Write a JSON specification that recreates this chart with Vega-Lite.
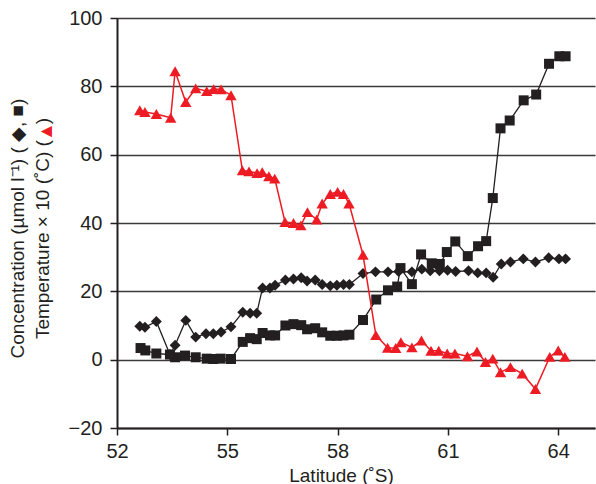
{
  "$schema": "https://vega.github.io/schema/vega-lite/v6.json",
  "width": 478,
  "height": 410,
  "autosize": {"type": "none"},
  "padding": {"left": 117, "top": 18, "right": 1, "bottom": 56},
  "config": {
    "view": {"stroke": null},
    "font": "Liberation Sans",
    "axis": {
      "labelFont": "Liberation Sans",
      "titleFont": "Liberation Sans",
      "labelFontSize": 20,
      "titleFontSize": 19,
      "titleFontWeight": "normal",
      "labelColor": "#231f20",
      "titleColor": "#231f20",
      "tickColor": "#231f20",
      "domainColor": "#231f20",
      "tickSize": 7,
      "tickWidth": 1.5,
      "labelFlush": false
    }
  },
  "datasets": {
    "conc": [
      {"latitude": 52.64, "value": 3.4, "series": "square"},
      {"latitude": 52.77, "value": 2.7, "series": "square"},
      {"latitude": 53.07, "value": 1.8, "series": "square"},
      {"latitude": 53.44, "value": 1.5, "series": "square"},
      {"latitude": 53.58, "value": 0.7, "series": "square"},
      {"latitude": 53.85, "value": 1.2, "series": "square"},
      {"latitude": 54.14, "value": 0.7, "series": "square"},
      {"latitude": 54.44, "value": 0.3, "series": "square"},
      {"latitude": 54.62, "value": 0.2, "series": "square"},
      {"latitude": 54.82, "value": 0.3, "series": "square"},
      {"latitude": 55.10, "value": 0.2, "series": "square"},
      {"latitude": 55.42, "value": 5.2, "series": "square"},
      {"latitude": 55.62, "value": 6.3, "series": "square"},
      {"latitude": 55.80, "value": 6.0, "series": "square"},
      {"latitude": 55.96, "value": 7.8, "series": "square"},
      {"latitude": 56.16, "value": 7.1, "series": "square"},
      {"latitude": 56.30, "value": 7.1, "series": "square"},
      {"latitude": 56.58, "value": 10.0, "series": "square"},
      {"latitude": 56.80, "value": 10.4, "series": "square"},
      {"latitude": 57.01, "value": 10.1, "series": "square"},
      {"latitude": 57.17, "value": 8.9, "series": "square"},
      {"latitude": 57.39, "value": 9.2, "series": "square"},
      {"latitude": 57.58, "value": 8.0, "series": "square"},
      {"latitude": 57.80, "value": 7.0, "series": "square"},
      {"latitude": 57.98, "value": 7.0, "series": "square"},
      {"latitude": 58.16, "value": 7.1, "series": "square"},
      {"latitude": 58.32, "value": 7.3, "series": "square"},
      {"latitude": 58.69, "value": 11.6, "series": "square"},
      {"latitude": 59.05, "value": 17.6, "series": "square"},
      {"latitude": 59.37, "value": 20.3, "series": "square"},
      {"latitude": 59.62, "value": 21.4, "series": "square"},
      {"latitude": 59.71, "value": 26.8, "series": "square"},
      {"latitude": 60.02, "value": 22.1, "series": "square"},
      {"latitude": 60.27, "value": 30.8, "series": "square"},
      {"latitude": 60.56, "value": 28.2, "series": "square"},
      {"latitude": 60.78, "value": 28.0, "series": "square"},
      {"latitude": 60.97, "value": 31.5, "series": "square"},
      {"latitude": 61.20, "value": 34.6, "series": "square"},
      {"latitude": 61.54, "value": 30.3, "series": "square"},
      {"latitude": 61.82, "value": 33.2, "series": "square"},
      {"latitude": 62.04, "value": 34.7, "series": "square"},
      {"latitude": 62.22, "value": 47.3, "series": "square"},
      {"latitude": 62.43, "value": 67.7, "series": "square"},
      {"latitude": 62.68, "value": 70.0, "series": "square"},
      {"latitude": 63.06, "value": 75.9, "series": "square"},
      {"latitude": 63.40, "value": 77.6, "series": "square"},
      {"latitude": 63.75, "value": 86.6, "series": "square"},
      {"latitude": 64.03, "value": 88.8, "series": "square"},
      {"latitude": 64.20, "value": 88.8, "series": "square"},
      {"latitude": 52.62, "value": 9.8, "series": "diamond"},
      {"latitude": 52.76, "value": 9.5, "series": "diamond"},
      {"latitude": 53.07, "value": 11.2, "series": "diamond"},
      {"latitude": 53.44, "value": 1.5, "series": "diamond"},
      {"latitude": 53.58, "value": 4.2, "series": "diamond"},
      {"latitude": 53.87, "value": 11.5, "series": "diamond"},
      {"latitude": 54.14, "value": 6.6, "series": "diamond"},
      {"latitude": 54.42, "value": 7.6, "series": "diamond"},
      {"latitude": 54.62, "value": 7.6, "series": "diamond"},
      {"latitude": 54.83, "value": 8.1, "series": "diamond"},
      {"latitude": 55.10, "value": 9.6, "series": "diamond"},
      {"latitude": 55.42, "value": 13.9, "series": "diamond"},
      {"latitude": 55.62, "value": 13.6, "series": "diamond"},
      {"latitude": 55.80, "value": 13.6, "series": "diamond"},
      {"latitude": 55.96, "value": 21.0, "series": "diamond"},
      {"latitude": 56.16, "value": 21.0, "series": "diamond"},
      {"latitude": 56.30, "value": 21.8, "series": "diamond"},
      {"latitude": 56.58, "value": 23.3, "series": "diamond"},
      {"latitude": 56.80, "value": 23.6, "series": "diamond"},
      {"latitude": 57.01, "value": 24.0, "series": "diamond"},
      {"latitude": 57.17, "value": 23.0, "series": "diamond"},
      {"latitude": 57.39, "value": 23.3, "series": "diamond"},
      {"latitude": 57.58, "value": 22.0, "series": "diamond"},
      {"latitude": 57.80, "value": 21.6, "series": "diamond"},
      {"latitude": 57.98, "value": 21.8, "series": "diamond"},
      {"latitude": 58.16, "value": 22.0, "series": "diamond"},
      {"latitude": 58.32, "value": 22.0, "series": "diamond"},
      {"latitude": 58.69, "value": 25.2, "series": "diamond"},
      {"latitude": 59.03, "value": 25.7, "series": "diamond"},
      {"latitude": 59.37, "value": 25.7, "series": "diamond"},
      {"latitude": 59.66, "value": 25.8, "series": "diamond"},
      {"latitude": 60.02, "value": 25.7, "series": "diamond"},
      {"latitude": 60.29, "value": 26.5, "series": "diamond"},
      {"latitude": 60.52, "value": 26.0, "series": "diamond"},
      {"latitude": 60.77, "value": 26.0, "series": "diamond"},
      {"latitude": 60.99, "value": 26.2, "series": "diamond"},
      {"latitude": 61.21, "value": 25.8, "series": "diamond"},
      {"latitude": 61.56, "value": 26.0, "series": "diamond"},
      {"latitude": 61.81, "value": 25.4, "series": "diamond"},
      {"latitude": 62.04, "value": 25.4, "series": "diamond"},
      {"latitude": 62.23, "value": 24.1, "series": "diamond"},
      {"latitude": 62.45, "value": 28.0, "series": "diamond"},
      {"latitude": 62.70, "value": 28.6, "series": "diamond"},
      {"latitude": 63.05, "value": 29.5, "series": "diamond"},
      {"latitude": 63.38, "value": 28.6, "series": "diamond"},
      {"latitude": 63.74, "value": 29.8, "series": "diamond"},
      {"latitude": 64.02, "value": 29.5, "series": "diamond"},
      {"latitude": 64.20, "value": 29.5, "series": "diamond"}
    ],
    "temp": [
      {"latitude": 52.62, "value": 73.0},
      {"latitude": 52.76, "value": 72.5},
      {"latitude": 53.07, "value": 71.9},
      {"latitude": 53.46, "value": 70.8},
      {"latitude": 53.58, "value": 84.4},
      {"latitude": 53.87, "value": 75.4},
      {"latitude": 54.14, "value": 79.4},
      {"latitude": 54.44, "value": 78.6},
      {"latitude": 54.63, "value": 79.2},
      {"latitude": 54.83, "value": 79.1},
      {"latitude": 55.10, "value": 77.4},
      {"latitude": 55.41, "value": 55.4},
      {"latitude": 55.59, "value": 55.1},
      {"latitude": 55.81, "value": 54.6},
      {"latitude": 55.95, "value": 54.9},
      {"latitude": 56.13, "value": 53.7},
      {"latitude": 56.29, "value": 53.0},
      {"latitude": 56.57, "value": 40.3},
      {"latitude": 56.80, "value": 40.0},
      {"latitude": 57.00, "value": 39.3},
      {"latitude": 57.18, "value": 43.2},
      {"latitude": 57.43, "value": 41.0},
      {"latitude": 57.58, "value": 45.7},
      {"latitude": 57.80, "value": 48.5},
      {"latitude": 58.00, "value": 49.1},
      {"latitude": 58.16, "value": 48.5},
      {"latitude": 58.31, "value": 45.7},
      {"latitude": 58.69, "value": 30.7},
      {"latitude": 59.04, "value": 7.2},
      {"latitude": 59.36, "value": 3.5},
      {"latitude": 59.58, "value": 3.4},
      {"latitude": 59.72, "value": 5.1},
      {"latitude": 60.02, "value": 3.6},
      {"latitude": 60.28, "value": 5.6},
      {"latitude": 60.54, "value": 2.6},
      {"latitude": 60.75, "value": 2.6},
      {"latitude": 60.98, "value": 1.8},
      {"latitude": 61.19, "value": 1.8},
      {"latitude": 61.53, "value": 1.0},
      {"latitude": 61.79, "value": 2.4},
      {"latitude": 62.02, "value": -0.7},
      {"latitude": 62.22, "value": 0.3},
      {"latitude": 62.43, "value": -3.7},
      {"latitude": 62.70, "value": -2.2},
      {"latitude": 63.02, "value": -4.1},
      {"latitude": 63.38, "value": -8.6},
      {"latitude": 63.77, "value": 0.8},
      {"latitude": 64.00, "value": 2.7},
      {"latitude": 64.18, "value": 0.8}
    ]
  },
  "encoding": {
    "x": {
      "field": "latitude",
      "type": "quantitative",
      "scale": {"domain": [52, 65], "nice": false, "zero": false},
      "axis": {
        "values": [52, 55, 58, 61, 64],
        "grid": false,
        "domainWidth": 2,
        "labelPadding": 6,
        "title": "Latitude (˚S)",
        "titleX": 224,
        "titleY": 53,
        "titleBaseline": "alphabetic",
        "titleAlign": "center"
      }
    }
  },
  "layer": [
    {
      "data": {"name": "conc"},
      "encoding": {
        "y": {
          "field": "value",
          "type": "quantitative",
          "scale": {"domain": [-20, 100], "nice": false, "zero": false},
          "axis": {
            "values": [-20, 0, 20, 40, 60, 80, 100],
            "grid": true,
            "gridColor": "#3a3a3a",
            "gridWidth": 1.5,
            "domainWidth": 2,
            "labelPadding": 8,
            "title": ["Concentration (µmol l⁻¹) ( ◆, ■)", "Temperature × 10 (˚C) (\u00a0\u00a0\u00a0)"],
            "titleAngle": -90,
            "titleBaseline": "top",
            "titleAlign": "center",
            "titleX": -109,
            "titleY": 210,
            "titleLineHeight": 25
          }
        }
      },
      "layer": [
        {
          "mark": {"type": "line", "color": "#231f20", "strokeWidth": 1.3},
          "encoding": {"detail": {"field": "series"}}
        },
        {
          "mark": {"type": "point", "filled": true, "opacity": 1, "color": "#231f20"},
          "encoding": {
            "shape": {
              "field": "series",
              "type": "nominal",
              "scale": {"domain": ["square", "diamond"], "range": ["square", "diamond"]},
              "legend": null
            },
            "size": {
              "field": "series",
              "type": "nominal",
              "scale": {"domain": ["square", "diamond"], "range": [100, 120]},
              "legend": null
            }
          }
        }
      ]
    },
    {
      "data": {"name": "temp"},
      "encoding": {
        "y": {
          "field": "value",
          "type": "quantitative",
          "scale": {"domain": [-20, 100], "nice": false, "zero": false},
          "axis": {
            "orient": "left",
            "labels": false,
            "ticks": false,
            "domain": false,
            "grid": false,
            "title": "▲",
            "titleColor": "#ed1c24",
            "titleAngle": -90,
            "titleBaseline": "middle",
            "titleAlign": "center",
            "titleX": -72,
            "titleY": 113
          }
        }
      },
      "layer": [
        {"mark": {"type": "line", "color": "#ed1c24", "strokeWidth": 1.5}},
        {"mark": {"type": "point", "shape": "triangle-up", "filled": true, "opacity": 1, "size": 130, "color": "#ed1c24"}}
      ]
    }
  ],
  "resolve": {"scale": {"y": "independent"}}
}
